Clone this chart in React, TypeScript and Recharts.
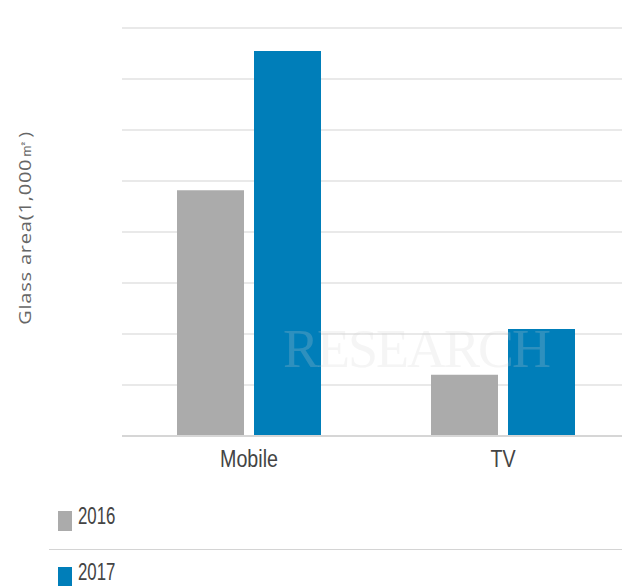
import React from 'react'
import { BarChart, Bar, XAxis, YAxis, CartesianGrid } from 'recharts'

const categories = ['Mobile', 'TV']
const values2016 = [4820, 1200]
const values2017 = [7550, 2100]
const yTicks = [0, 1000, 2000, 3000, 4000, 5000, 6000, 7000, 8000]

const series = [
  { key: 'y2016', name: '2016', color: '#ababab' },
  { key: 'y2017', name: '2017', color: '#007eb9' },
]

const data = categories.map((name, i) => ({
  name,
  y2016: values2016[i],
  y2017: values2017[i],
}))

const sansFont = '"Liberation Sans", Arial, sans-serif'

// narrow-looking category labels: Liberation Sans squeezed horizontally
function CategoryTick(props: any) {
  const { x, y, payload } = props
  return (
    <g transform={`translate(${x},${y})`}>
      <text
        transform="scale(0.82,1)"
        textAnchor="middle"
        dy="0.71em"
        fill="#444"
        fontSize={24}
        fontFamily={sansFont}
      >
        {payload.value}
      </text>
    </g>
  )
}

export default function App() {
  return (
    <div
      style={{
        position: 'fixed',
        top: 0,
        left: 0,
        width: 622,
        height: 586,
        overflow: 'hidden',
        background: '#fff',
      }}
    >
      <BarChart
        width={630}
        height={490}
        data={data}
        margin={{ top: 28, right: 0, left: 122, bottom: 0 }}
        barGap={10}
        barSize={67}
      >
        <CartesianGrid vertical={false} stroke="#e9e9e9" strokeWidth={2} />
        <YAxis hide domain={[0, 8000]} ticks={yTicks} />
        <XAxis
          dataKey="name"
          height={54}
          axisLine={{ stroke: '#d6d6d6', strokeWidth: 2 }}
          tickLine={false}
          tickSize={0}
          tickMargin={14}
          tick={<CategoryTick />}
        />
        {series.map((s) => (
          <Bar key={s.key} dataKey={s.key} name={s.name} fill={s.color} isAnimationActive={false} />
        ))}
      </BarChart>

      {/* faint watermark over the plot */}
      <div
        style={{
          position: 'absolute',
          left: 283,
          top: 322,
          fontFamily: '"Liberation Serif", serif',
          fontSize: 54,
          lineHeight: '54px',
          letterSpacing: -2,
          color: 'rgba(210,210,210,0.22)',
          pointerEvents: 'none',
          whiteSpace: 'nowrap',
        }}
      >
        RESEARCH
      </div>

      <div
        style={{
          position: 'absolute',
          left: 25,
          top: 228,
          transform: 'translate(-50%, -50%) rotate(-90deg) scaleY(0.8)',
          fontFamily: '"Open Sans", sans-serif',
          fontSize: 20,
          letterSpacing: 0.8,
          color: '#666',
          whiteSpace: 'nowrap',
        }}
      >
        Glass area(1,000㎡)
      </div>

      <div style={{ position: 'absolute', left: 49, top: 492, right: 0 }}>
        {series.map((s, i) => (
          <div
            key={s.key}
            style={{
              position: 'relative',
              height: 57,
              borderTop: i > 0 ? '1px solid #d4d4d4' : 'none',
              boxSizing: 'border-box',
            }}
          >
            <span
              style={{
                position: 'absolute',
                left: 9,
                top: i > 0 ? 17 : 19,
                width: 14,
                height: 20,
                background: s.color,
              }}
            />
            <span
              style={{
                position: 'absolute',
                left: 29,
                top: i > 0 ? 8 : 10,
                fontFamily: sansFont,
                fontSize: 24,
                color: '#444',
                lineHeight: '28px',
                transform: 'scaleX(0.7)',
                transformOrigin: 'left center',
              }}
            >
              {s.name}
            </span>
          </div>
        ))}
      </div>
    </div>
  )
}
